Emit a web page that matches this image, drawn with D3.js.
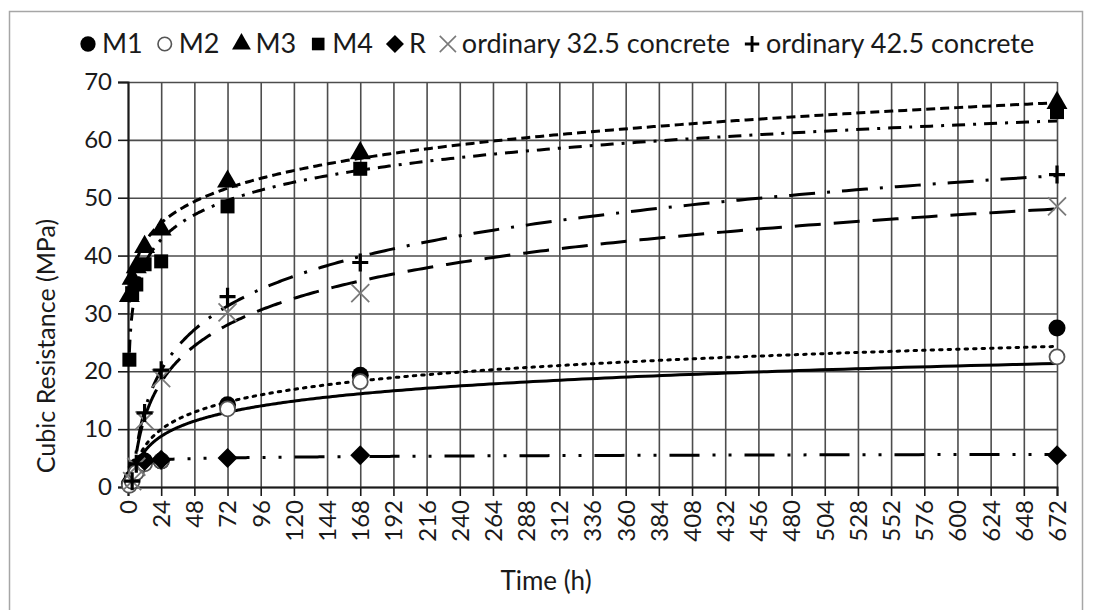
<!DOCTYPE html>
<html>
<head>
<meta charset="utf-8">
<script src="https://cdn.jsdelivr.net/npm/d3@7"></script>
<style>
  body { margin: 0; background: #fff; }
  text { font-family: Lato, "Open Sans", sans-serif; fill: #1a1a1a; }
</style>
</head>
<body>
<div id="chart"></div>
<script>
var chartWidth = 1093;
var chartHeight = 610;

// Hours of testing
var hoursM = [1, 3, 6, 12, 24, 72, 168, 672];
var hoursR = [12, 24, 72, 168, 672];
var hoursOrd = [3, 6, 12, 24, 72, 168, 672];

// Cubic resistance (MPa) per mix
var m1 = [0.5, 1.5, 3.5, 4.5, 4.5, 14.2, 19.3, 27.5];
var m2 = [0.3, 1, 2.5, 4, 4.5, 13.5, 18.2, 22.5];
var m3 = [33, 36, 38, 41.5, 44.5, 52.8, 57.7, 66.4];
var m4 = [22, 33.5, 35, 38.5, 39, 48.5, 55, 64.8];
var r = [4.5, 4.7, 5, 5.5, 5.5];
var ord325 = [1, 3.5, 11.5, 18.8, 30.2, 33.5, 48.5];
var ord425 = [1, 4, 12.8, 20.2, 32.9, 38.8, 54];

var seriesNames = ["M1", "M2", "M3", "M4", "R", "ordinary 32.5 concrete", "ordinary 42.5 concrete"];

// Axis ticks
var xTicks = [0, 24, 48, 72, 96, 120, 144, 168, 192, 216, 240, 264, 288, 312, 336, 360,
  384, 408, 432, 456, 480, 504, 528, 552, 576, 600, 624, 648, 672];
var yTicks = [0, 10, 20, 30, 40, 50, 60, 70];

var series = [
  { name: seriesNames[0], x: hoursM, y: m1, symbol: "circle", fit: "log", dash: "2.5,6", cap: "round" },
  { name: seriesNames[1], x: hoursM, y: m2, symbol: "open", fit: "log", dash: null },
  { name: seriesNames[2], x: hoursM, y: m3, symbol: "triangle", fit: "power", dash: "9,5" },
  { name: seriesNames[3], x: hoursM, y: m4, symbol: "square", fit: "log", dash: "13,8,3,8" },
  { name: seriesNames[4], x: hoursR, y: r, symbol: "diamond", fit: "log", dash: "30,13,3,13,3,13" },
  { name: seriesNames[5], x: hoursOrd, y: ord325, symbol: "x", fit: "log", dash: "26,13" },
  { name: seriesNames[6], x: hoursOrd, y: ord425, symbol: "plus", fit: "log", dash: "26,12,3,12" }
];

var plotLeft = 128, plotRight = 1057, plotTop = 82, plotBottom = 487;

var svg = d3.select("#chart")
  .append("svg")
  .attr("width", chartWidth)
  .attr("height", chartHeight);

// outer frame
svg.append("rect")
  .attr("x", 9.5).attr("y", 11.5)
  .attr("width", 1073).attr("height", 700)
  .attr("fill", "#fff")
  .attr("stroke", "#a6a6a6")
  .attr("stroke-width", 1.5);

var x = d3.scaleLinear().domain([0, 672]).range([plotLeft, plotRight]);
var y = d3.scaleLinear().domain([0, 70]).range([plotBottom, plotTop]);

// Grid lines
svg.append("g")
  .attr("transform", "translate(" + plotLeft + ",0)")
  .call(d3.axisLeft(y).tickValues(yTicks).tickSize(-(plotRight - plotLeft)).tickFormat(""))
  .call(function (g) { g.select(".domain").remove(); })
  .selectAll("line").attr("stroke", "#4d4d4d").attr("stroke-width", 1.6);

svg.append("g")
  .attr("transform", "translate(0," + plotBottom + ")")
  .call(d3.axisBottom(x).tickValues(xTicks).tickSize(-(plotBottom - plotTop)).tickFormat(""))
  .call(function (g) { g.select(".domain").remove(); })
  .selectAll("line").attr("stroke", "#4d4d4d").attr("stroke-width", 1.6);

// Y axis with outward ticks and labels
var yAxis = svg.append("g")
  .attr("transform", "translate(" + plotLeft + ",0)")
  .call(d3.axisLeft(y).tickValues(yTicks).tickSize(10).tickPadding(6));
yAxis.select(".domain").attr("stroke", "#1a1a1a").attr("stroke-width", 2);
yAxis.selectAll("line").attr("stroke", "#1a1a1a").attr("stroke-width", 1.6);
yAxis.selectAll("text").style("font-size", "24px").style("font-family", "Lato, sans-serif").attr("fill", "#1a1a1a");

// X axis with rotated labels
var xAxis = svg.append("g")
  .attr("transform", "translate(0," + plotBottom + ")")
  .call(d3.axisBottom(x).tickValues(xTicks).tickSize(9).tickPadding(4));
xAxis.select(".domain").attr("stroke", "#1a1a1a").attr("stroke-width", 2);
xAxis.selectAll("line").attr("stroke", "#1a1a1a").attr("stroke-width", 1.6);
xAxis.selectAll("text")
  .style("font-size", "24px").style("font-family", "Lato, sans-serif").attr("fill", "#1a1a1a")
  .attr("transform", "rotate(-90)")
  .attr("text-anchor", "end")
  .attr("x", -13).attr("y", 0).attr("dy", "0.35em");

// Axis titles
svg.append("text")
  .attr("transform", "translate(55,346) rotate(-90)")
  .attr("text-anchor", "middle")
  .style("font-size", "25px")
  .text("Cubic Resistance (MPa)");

svg.append("text")
  .attr("x", 546).attr("y", 590)
  .attr("text-anchor", "middle")
  .style("font-size", "26px")
  .text("Time (h)");

// clip for trend lines
svg.append("clipPath").attr("id", "plotClip")
  .append("rect").attr("x", plotLeft).attr("y", plotTop)
  .attr("width", plotRight - plotLeft).attr("height", plotBottom - plotTop);

// least-squares trend on ln(x), either y = a ln x + b or ln y = a ln x + b
function trendFit(xs, ys, kind) {
  var lx = xs.map(Math.log);
  var ly = kind === "power" ? ys.map(Math.log) : ys;
  var mx = d3.mean(lx), my = d3.mean(ly);
  var sxy = d3.sum(lx, function (v, i) { return (v - mx) * (ly[i] - my); });
  var sxx = d3.sum(lx, function (v) { return (v - mx) * (v - mx); });
  var a = sxy / sxx, b = my - a * mx;
  return function (t) {
    var v = a * Math.log(t) + b;
    return kind === "power" ? Math.exp(v) : v;
  };
}

var trendLine = d3.line()
  .x(function (d) { return x(d[0]); })
  .y(function (d) { return y(d[1]); });

var trendGroup = svg.append("g").attr("clip-path", "url(#plotClip)");
series.forEach(function (s) {
  var f = trendFit(s.x, s.y, s.fit);
  var x0 = d3.min(s.x), x1 = d3.max(s.x);
  var pts = d3.range(0, 401).map(function (i) {
    var t = x0 * Math.pow(x1 / x0, i / 400);
    return [t, f(t)];
  });
  trendGroup.append("path")
    .attr("d", trendLine(pts))
    .attr("fill", "none")
    .attr("stroke", "#000")
    .attr("stroke-width", 3)
    .attr("stroke-linecap", s.cap || "butt")
    .attr("stroke-dasharray", s.dash);
});

// marker drawing
function drawMarker(g, kind) {
  if (kind === "circle") {
    g.append("circle").attr("r", 8.5).attr("fill", "#000");
  } else if (kind === "open") {
    g.append("circle").attr("r", 7.5).attr("fill", "#fff").attr("stroke", "#555").attr("stroke-width", 1.8);
  } else if (kind === "triangle") {
    g.append("path").attr("d", d3.symbol(d3.symbolTriangle, 190)()).attr("fill", "#000");
  } else if (kind === "square") {
    g.append("path").attr("d", d3.symbol(d3.symbolSquare, 196)()).attr("fill", "#000");
  } else if (kind === "diamond") {
    g.append("path").attr("d", d3.symbol(d3.symbolSquare, 200)()).attr("transform", "rotate(45)").attr("fill", "#000");
  } else if (kind === "x") {
    g.append("path").attr("d", "M-9,-9L9,9M-9,9L9,-9").attr("stroke", "#7a7a7a").attr("stroke-width", 1.8).attr("fill", "none");
  } else if (kind === "plus") {
    g.append("path").attr("d", "M-8,0L8,0M0,-9L0,9").attr("stroke", "#000").attr("stroke-width", 3.2).attr("fill", "none");
  }
}

series.forEach(function (s) {
  var pts = s.x.map(function (t, i) { return [t, s.y[i]]; });
  svg.append("g").selectAll("g")
    .data(pts)
    .enter()
    .append("g")
    .attr("transform", function (d) { return "translate(" + x(d[0]) + "," + y(d[1]) + ")"; })
    .each(function () { drawMarker(d3.select(this), s.symbol); });
});

// Legend along the top
var legend = svg.append("g").attr("transform", "translate(0,44)");
var cursor = 80;
series.forEach(function (s) {
  var m = legend.append("g").attr("transform", "translate(" + (cursor + 8) + ",0)scale(0.9)");
  drawMarker(m, s.symbol);
  var t = legend.append("text")
    .attr("x", cursor + 22)
    .attr("y", 0)
    .attr("dy", "0.35em")
    .style("font-size", "27px")
    .text(s.name);
  cursor += 22 + t.node().getComputedTextLength() + 14;
});
</script>
</body>
</html>
